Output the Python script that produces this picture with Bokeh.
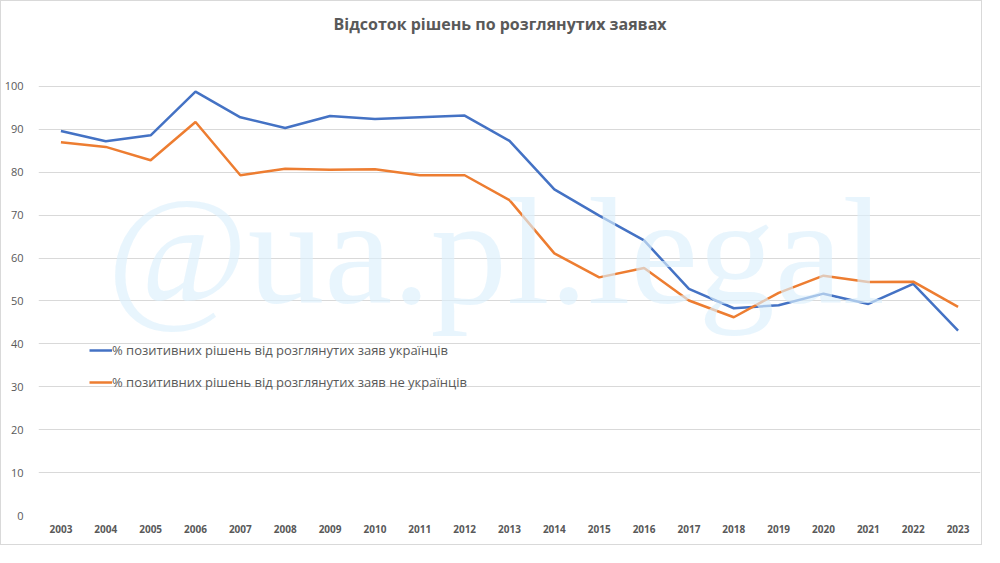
from bokeh.plotting import figure
from bokeh.models import FixedTicker, Legend, LegendItem
from bokeh.core.properties import value
from bokeh.embed import file_html
from bokeh.resources import INLINE

years = [str(y) for y in range(2003, 2024)]
ukrainians = [89.6, 87.2, 88.6, 98.8, 92.8, 90.3, 93.1, 92.4, 92.8, 93.2, 87.3,
              76.0, 69.9, 64.1, 52.8, 48.3, 49.0, 51.7, 49.3, 54.0, 43.1]
non_ukrainians = [87.0, 85.9, 82.8, 91.7, 79.3, 80.8, 80.6, 80.7, 79.3, 79.3, 73.5,
                  61.1, 55.5, 57.7, 50.1, 46.2, 51.9, 55.9, 54.4, 54.5, 48.6]
series_names = ["% позитивних рішень від розглянутих заяв українців",
                "% позитивних рішень від розглянутих заяв не українців"]
y_ticks = list(range(0, 101, 10))
title_text = "Відсоток рішень по розглянутих заявах"
watermark = "@ua.pl.legal"

FONT = "Open Sans"
GREY = "#595959"

p = figure(width=982, height=545, x_range=years, y_range=(0, 110),
           output_backend="svg", toolbar_location=None,
           min_border_left=33, min_border_right=3, min_border_top=42,
           min_border_bottom=31)
p.styles = {"border": "1px solid #d9d9d9"}
p.outline_line_color = None
p.background_fill_color = "white"
p.border_fill_color = "white"

p.title.text = title_text
p.title.align = "left"
p.title.offset = 295
p.title.text_font = FONT
p.title.text_font_size = "16px"
p.title.text_font_style = "bold"
p.title.text_color = GREY
p.title.text_line_height = 1.0
p.title.standoff = 18

p.xgrid.grid_line_color = None
p.ygrid.grid_line_color = "#d9d9d9"
p.ygrid.grid_line_width = 1
p.yaxis.ticker = FixedTicker(ticks=y_ticks)

for ax in (p.xaxis, p.yaxis):
    ax.axis_line_color = None
    ax.major_tick_line_color = None
    ax.minor_tick_line_color = None
    ax.major_label_text_color = GREY
    ax.major_label_text_font = FONT
p.xaxis.major_label_text_font_size = "10px"
p.yaxis.major_label_text_font_size = "11px"
p.xaxis.major_label_text_font_style = "bold"
p.xaxis.major_label_standoff = 3
p.yaxis.major_label_standoff = 9

r1 = p.line(x=years, y=ukrainians, line_color="#4472C4", line_width=2.5)
r2 = p.line(x=years, y=non_ukrainians, line_color="#ED7D31", line_width=2.5)

p.text(x=[years[0]], y=[61.5], text=[watermark], x_offset=46,
       text_font=value("Liberation Serif"), text_font_size="153px",
       text_color="#dcf0fc", text_alpha=0.65, text_baseline="alphabetic",
       text_align="left")

legend = Legend(items=[LegendItem(label=series_names[0], renderers=[r1]),
                       LegendItem(label=series_names[1], renderers=[r2])],
                location=(51, 123), orientation="vertical")
legend.background_fill_alpha = 0
legend.border_line_color = None
legend.padding = 0
legend.margin = 0
legend.spacing = 12
legend.glyph_width = 23
legend.glyph_height = 20
legend.label_standoff = 0
legend.label_text_font = FONT
legend.label_text_font_size = "13px"
legend.label_text_color = GREY
p.add_layout(legend, "center")

open("out.html", "w").write(file_html(p, INLINE))
